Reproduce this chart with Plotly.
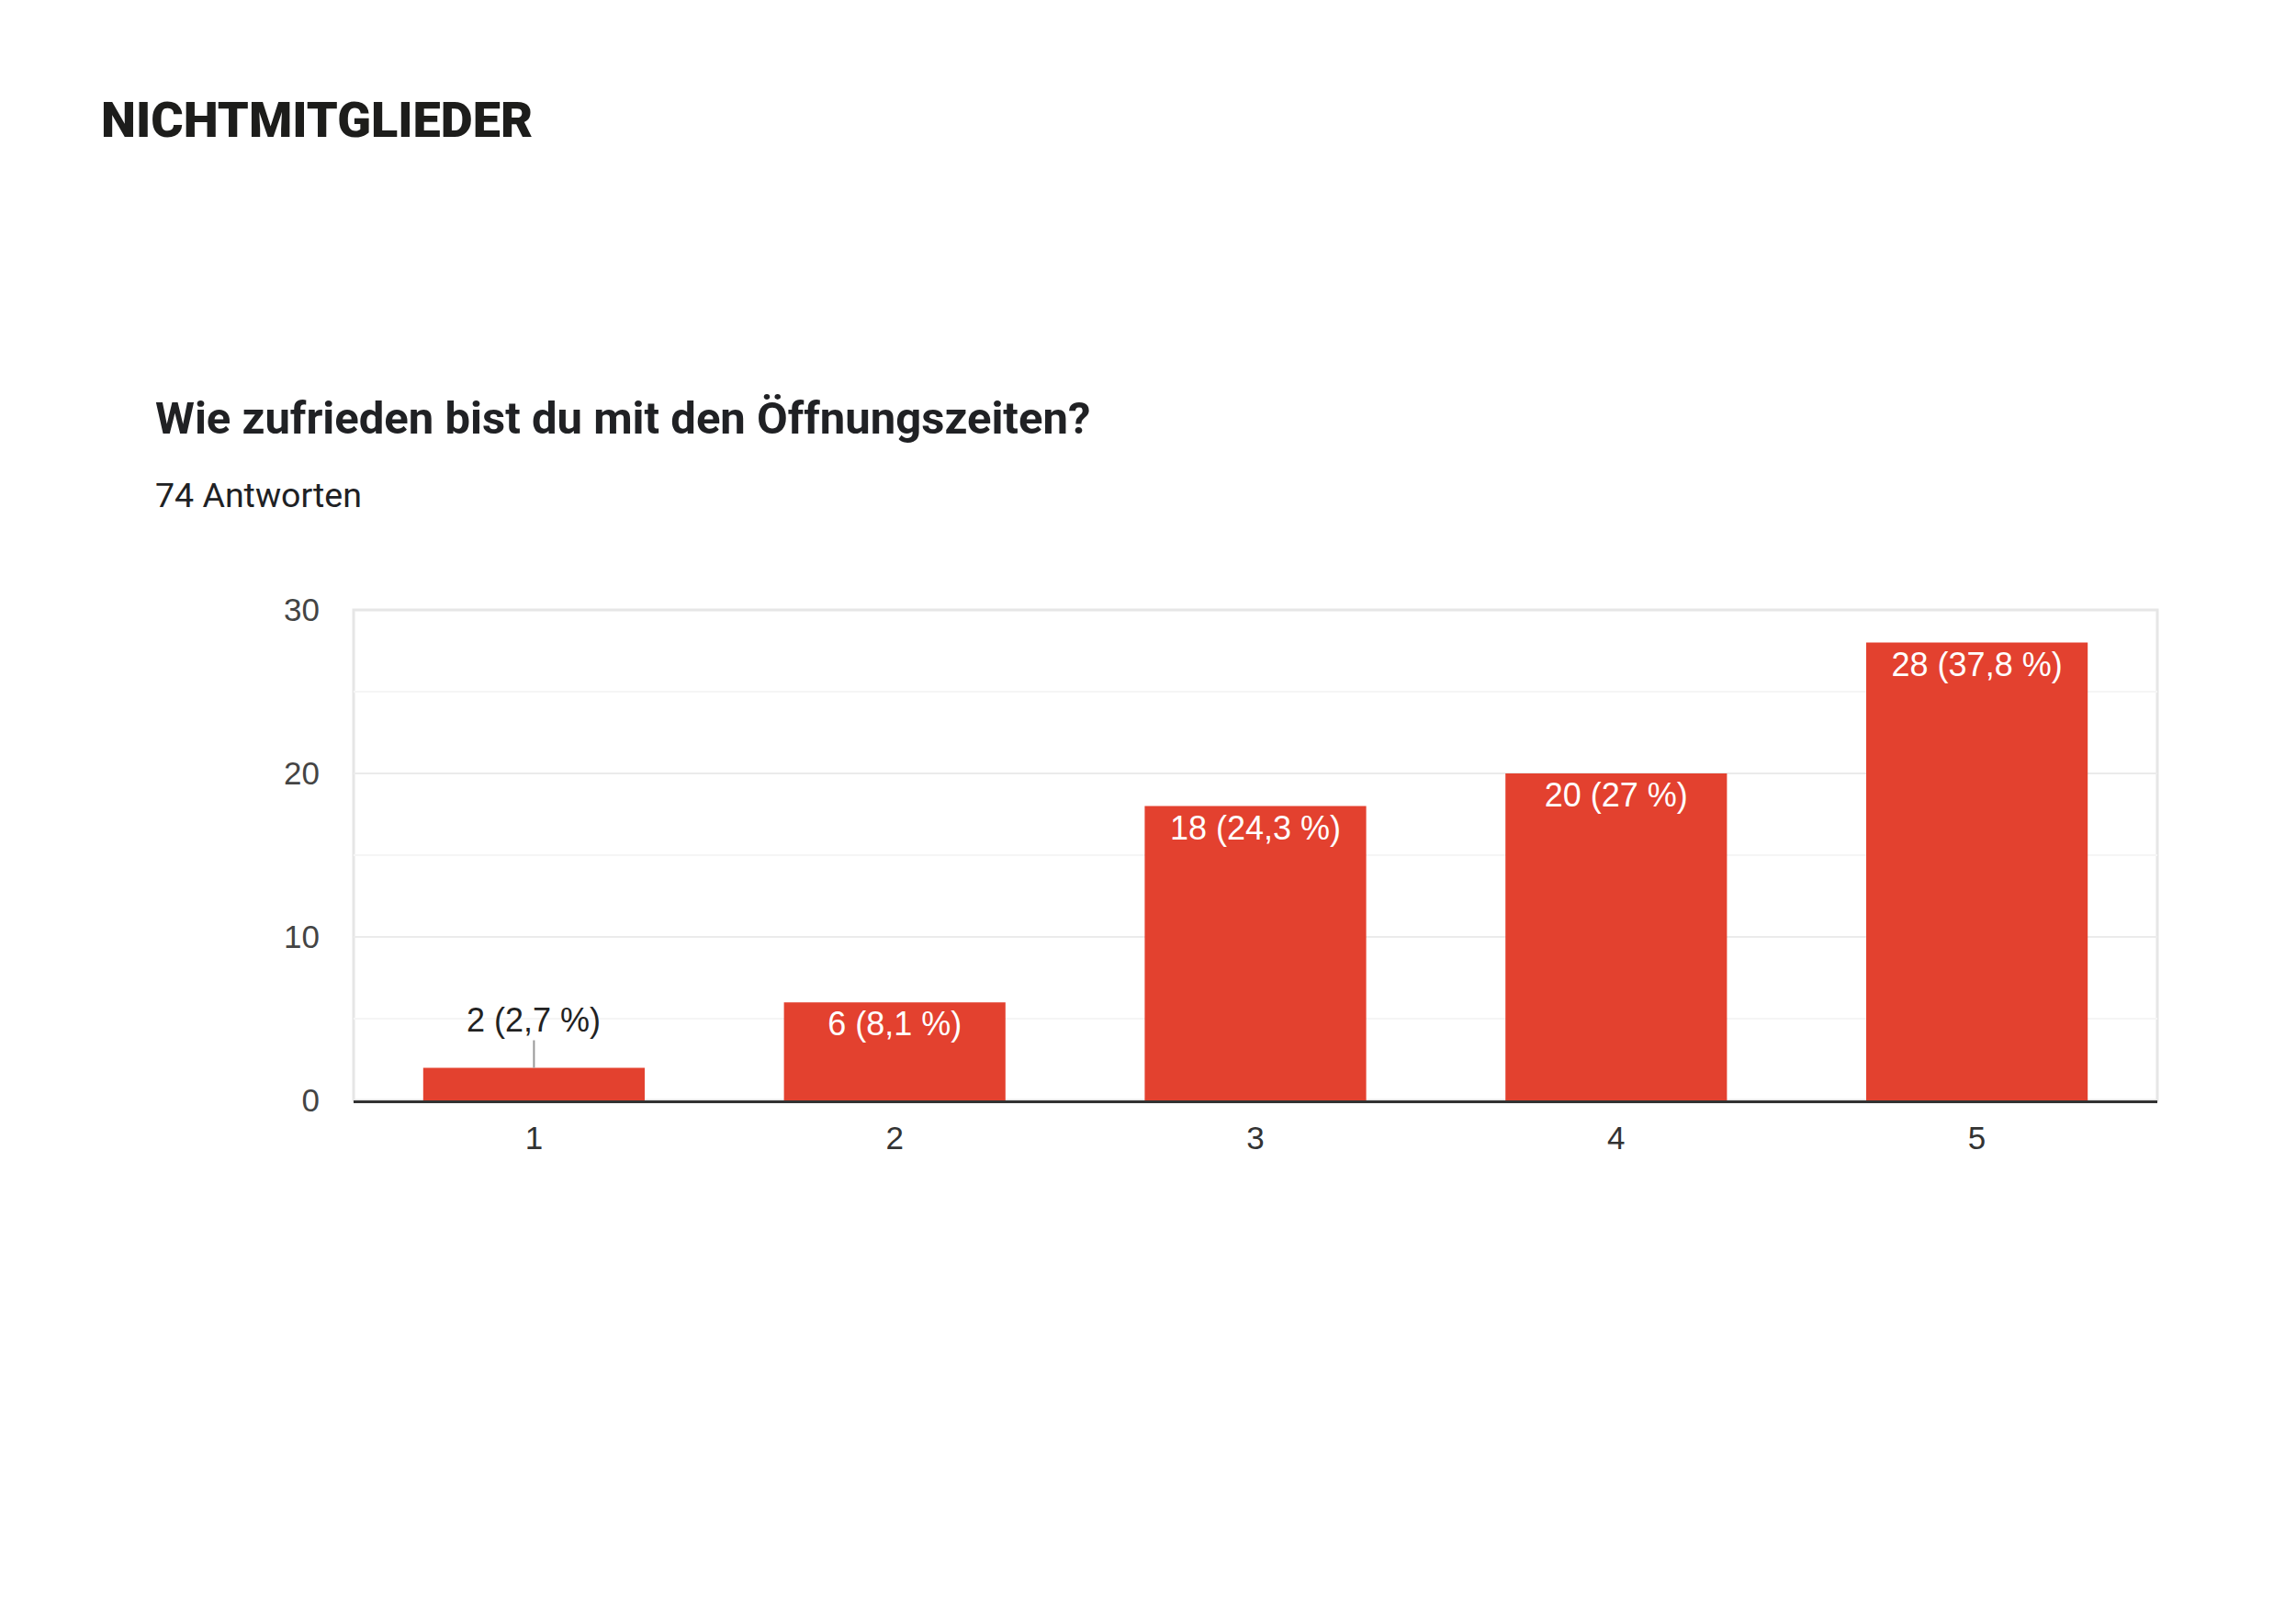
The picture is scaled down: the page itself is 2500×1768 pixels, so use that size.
import plotly.graph_objects as go

categories = ["1", "2", "3", "4", "5"]
counts = [2, 6, 18, 20, 28]
labels = ["2 (2,7 %)", "6 (8,1 %)", "18 (24,3 %)", "20 (27 %)", "28 (37,8 %)"]
y_ticks = [0, 10, 20, 30]

page_title = "NICHTMITGLIEDER"
question = "Wie zufrieden bist du mit den Öffnungszeiten?"
subtitle = "74 Antworten"

W, H = 2500, 1768
OFF = 7  # page body margin
L, R, T, B = 384, 2348, 663, 1197

def px(x):
    return (x - L) / (R - L)

def py(y):
    return (B - y) / (B - T)

inside_text = [t if c >= 4 else "" for t, c in zip(labels, counts)]

fig = go.Figure()
fig.add_trace(go.Bar(
    x=categories, y=counts,
    marker=dict(color="#e3412f", line=dict(width=0)),
    text=inside_text, textposition="inside", insidetextanchor="end",
    textangle=0, constraintext="none",
    textfont=dict(family="Liberation Sans, Arial", size=36, color="white"),
    hoverinfo="skip",
))

annotations = [
    dict(text=page_title, xref="paper", yref="paper", x=px(107), y=py(129),
         xanchor="left", yanchor="middle", showarrow=False,
         font=dict(family="Roboto", size=54, color="#1d1d1b", weight=900)),
    dict(text=question, xref="paper", yref="paper", x=px(166), y=py(454),
         xanchor="left", yanchor="middle", showarrow=False,
         font=dict(family="Roboto", size=49, color="#202124", weight="bold")),
    dict(text=subtitle, xref="paper", yref="paper", x=px(166), y=py(538),
         xanchor="left", yanchor="middle", showarrow=False,
         font=dict(family="Roboto", size=37.5, color="#202124")),
]
# outside label for the small bar with leader line
for i, (c, t) in enumerate(zip(counts, labels)):
    if c < 4:
        annotations.append(dict(
            text=t, x=i, y=c, xref="x", yref="y",
            showarrow=True, arrowhead=0, arrowwidth=2, arrowcolor="#999999",
            ax=0, ay=-52, standoff=0, startstandoff=0,
            font=dict(family="Liberation Sans, Arial", size=36, color="#222222"),
        ))

fig.update_layout(
    width=W, height=H,
    margin=dict(l=L - OFF, r=W - R + OFF, t=T - OFF, b=H - B + OFF, pad=0),
    paper_bgcolor="white", plot_bgcolor="white",
    bargap=0.386,
    showlegend=False,
    annotations=annotations,
    shapes=[dict(type="rect", xref="paper", yref="paper", x0=0, x1=1, y0=0, y1=1,
                 line=dict(color="#e6e6e6", width=3), layer="below")],
    xaxis=dict(
        type="category", showgrid=False, showline=True, linecolor="#333333", linewidth=3,
        ticks="", ticklabelstandoff=8,
        tickfont=dict(family="Liberation Sans, Arial", size=35, color="#333333"),
        fixedrange=True,
    ),
    yaxis=dict(
        range=[0, 30], tickvals=y_ticks, showgrid=True, gridcolor="#ebebeb", gridwidth=2,
        minor=dict(dtick=5, showgrid=True, gridcolor="#f5f5f5", gridwidth=2),
        zeroline=False, showline=False, ticks="", ticklabelstandoff=36,
        tickfont=dict(family="Liberation Sans, Arial", size=35, color="#444444"),
        fixedrange=True,
    ),
)

fig.write_html("out.html")
